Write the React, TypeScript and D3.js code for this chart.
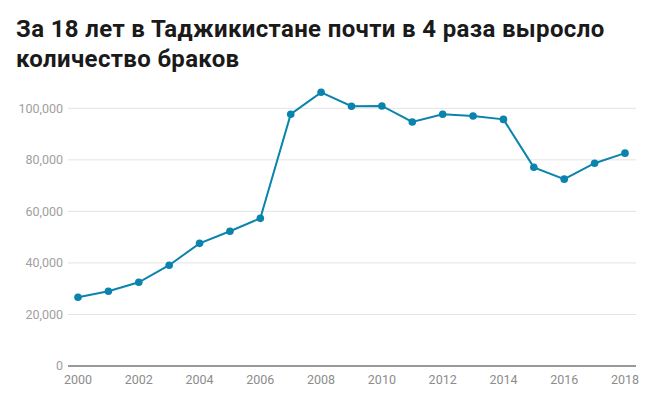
import React from 'react';
import * as d3 from 'd3';

const years = [2000, 2001, 2002, 2003, 2004, 2005, 2006, 2007, 2008, 2009, 2010, 2011, 2012, 2013, 2014, 2015, 2016, 2017, 2018];
const marriages = [26700, 29000, 32500, 39100, 47600, 52300, 57300, 97700, 106200, 100800, 100900, 94700, 97700, 97000, 95700, 77100, 72500, 78700, 82600];
const yTicks = [0, 20000, 40000, 60000, 80000, 100000];
const xTicks = [2000, 2002, 2004, 2006, 2008, 2010, 2012, 2014, 2016, 2018];
const titleLines = ['За 18 лет в Таджикистане почти в 4 раза выросло', 'количество браков'];

const W = 646;
const H = 399;
const left = 68;
const right = 636;
const color = '#0b84ad';

export default function App() {
  const x = d3.scaleLinear().domain([2000, 2018]).range([78, 625]);
  const y = d3.scaleLinear().domain([0, 100000]).range([366, 108.3]);
  const fmt = d3.format(',');

  const line = d3.line<number>()
    .x((_, i) => x(years[i]))
    .y(d => y(d));

  return (
    <svg width={W} height={H} style={{ position: 'absolute', left: 0, top: 0, background: '#fff' }}>
      {/* title */}
      {titleLines.map((t, i) => (
        <text key={t} x={16} y={37 + i * 29.5} fontFamily="Roboto, sans-serif" fontWeight="bold" fontSize={24} letterSpacing={0.35} fill="#1a1a1a">
          {t}
        </text>
      ))}

      {/* grid and y labels */}
      {yTicks.map(v => (
        <g key={v}>
          {v > 0 && <line x1={left} x2={right} y1={y(v)} y2={y(v)} stroke="#e3e3e3" strokeWidth={1} />}
          <text x={63} y={y(v)} dy="0.35em" textAnchor="end" fontFamily="Roboto, sans-serif" fontSize={12.5} fill="#a0a0a0">
            {fmt(v)}
          </text>
        </g>
      ))}
      <line x1={left} x2={right} y1={y(0)} y2={y(0)} stroke="#333" strokeWidth={1} />

      {/* x labels */}
      {xTicks.map(t => (
        <text key={t} x={x(t)} y={384} textAnchor="middle" fontFamily="Roboto, sans-serif" fontSize={12.5} fill="#8c8c8c">
          {t}
        </text>
      ))}

      {/* line and points */}
      <path d={line(marriages) || ''} fill="none" stroke={color} strokeWidth={2} />
      {marriages.map((v, i) => (
        <circle key={years[i]} cx={x(years[i])} cy={y(v)} r={3.8} fill={color} />
      ))}
    </svg>
  );
}
